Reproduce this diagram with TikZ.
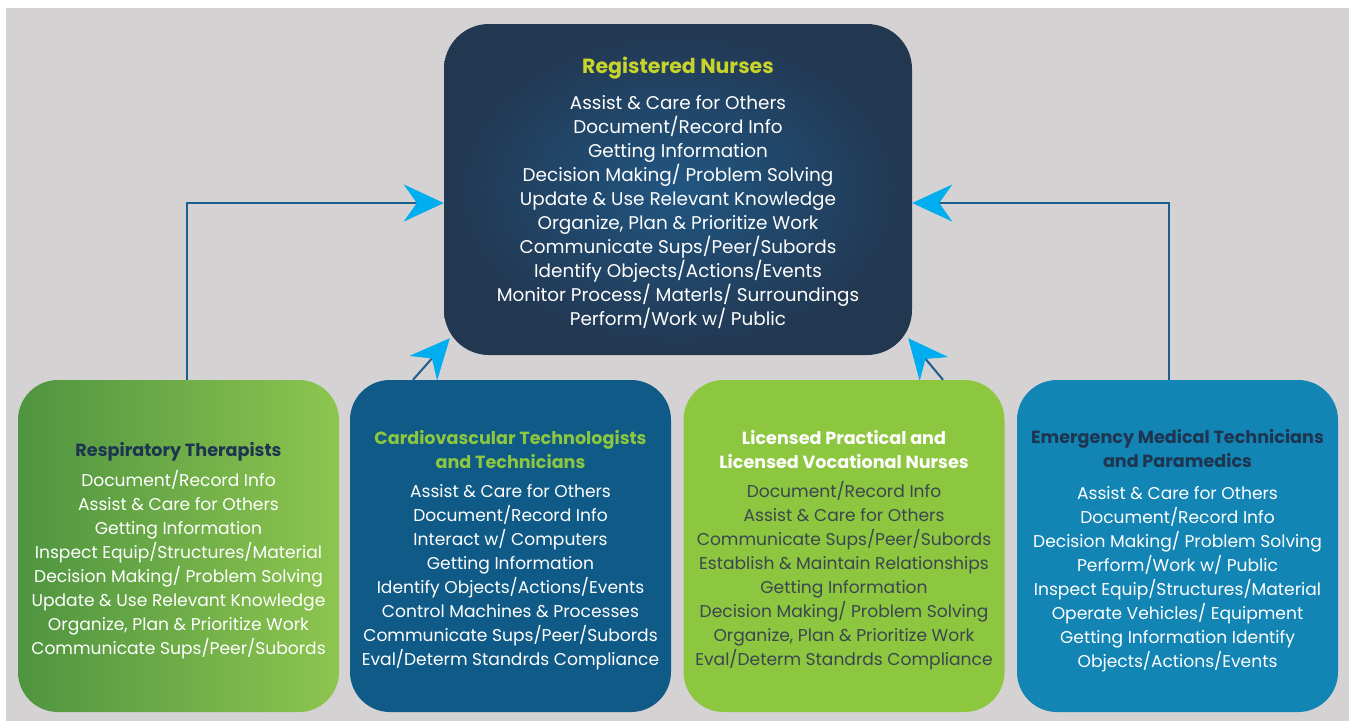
\documentclass[tikz,border=0pt]{standalone}
\usepackage{fontspec}
\setmainfont{Poppins}
\usetikzlibrary{arrows.meta,calc}
\definecolor{bggray}{HTML}{D4D2D3}
\definecolor{navyout}{HTML}{223750}
\definecolor{navyin}{HTML}{215682}
\definecolor{rnyellow}{HTML}{C9D42A}
\definecolor{greenL}{HTML}{4F9440}
\definecolor{greenR}{HTML}{8DC54F}
\definecolor{cvblue}{HTML}{0F5A87}
\definecolor{lpgreen}{HTML}{8DC63F}
\definecolor{emblue}{HTML}{1385B5}
\definecolor{titlenavy}{HTML}{1E3550}
\definecolor{titlegreen}{HTML}{8DC63F}
\definecolor{darktext}{HTML}{3B4650}
\definecolor{linkblue}{HTML}{1B5F8F}
\definecolor{tipcyan}{HTML}{00AEEF}
\begin{document}
\begin{tikzpicture}[x=1pt,y=-1pt,
  box/.style={rounded corners=40pt, minimum width=321pt, minimum height=332pt, inner sep=0pt, draw=none},
  txt/.style={align=center, inner sep=0pt, font=\fontsize{17.1}{24}\selectfont},
  bigtxt/.style={align=center, inner sep=0pt, font=\fontsize{18.4}{24}\selectfont},
  ttl/.style={align=center, inner sep=0pt, font=\fontsize{17.6}{24}\selectfont\bfseries},
  bigttl/.style={align=center, inner sep=0pt, font=\fontsize{20.5}{24}\selectfont\bfseries},
  link/.style={draw=linkblue, line width=2pt, -{Stealth[length=40pt,width=37pt,inset=13pt,color=tipcyan]}}
]
\useasboundingbox (0,0) rectangle (1349,721);
\fill[bggray] (6,8) rectangle (1349,721);

% boxes
\node[box, rounded corners=45pt, minimum width=468pt, minimum height=331pt, inner color=navyin, outer color=navyout] (rn) at (678,189.5) {};
\node[box, left color=greenL, right color=greenR] (rt) at (178.5,546) {};
\node[box, fill=cvblue] (cv) at (510.5,546) {};
\node[box, fill=lpgreen] (lp) at (844,546) {};
\node[box, fill=emblue] (em) at (1177.5,546) {};

% connectors
\draw[link] ([xshift=8.5pt]rt.north) |- ([yshift=-13.5pt]rn.west);
\draw[link] ([xshift=-8.5pt]em.north) |- ([yshift=-13.5pt]rn.east);
\draw[link] ([xshift=-97.5pt]cv.north) -- ($(rn.south west)+(6,-17)$);
\draw[link] ([xshift=99pt]lp.north) -- ($(rn.south east)+(-4,-17)$);

% texts
\node[bigttl, text=rnyellow] (rnt) at (678,68) {Registered Nurses};
\node[bigtxt, text=white, anchor=north] (rnl) at (678,95) {Assist \& Care for Others\\Document/Record Info\\Getting Information\\Decision Making/ Problem Solving\\Update \& Use Relevant Knowledge\\Organize, Plan \& Prioritize Work\\Communicate Sups/Peer/Subords\\Identify Objects/Actions/Events\\Monitor Process/ Materls/ Surroundings\\Perform/Work w/ Public};

\node[ttl, text=titlenavy] (rtt) at (178.5,452) {Respiratory Therapists};
\node[txt, text=white, anchor=north] (rtl) at (178.5,470.5) {Document/Record Info\\Assist \& Care for Others\\Getting Information\\Inspect Equip/Structures/Material\\Decision Making/ Problem Solving\\Update \& Use Relevant Knowledge\\Organize, Plan \& Prioritize Work\\Communicate Sups/Peer/Subords};

\node[ttl, text=titlegreen, anchor=north] (cvt) at (510.5,430.5) {Cardiovascular Technologists\\and Technicians};
\node[txt, text=white, anchor=north] (cvl) at (510.5,484.5) {Assist \& Care for Others\\Document/Record Info\\Interact w/ Computers\\Getting Information\\Identify Objects/Actions/Events\\Control Machines \& Processes\\Communicate Sups/Peer/Subords\\Eval/Determ Standrds Compliance};

\node[ttl, text=white, anchor=north] (lpt) at (844,430.5) {Licensed Practical and\\Licensed Vocational Nurses};
\node[txt, text=darktext, anchor=north] (lpl) at (844,481.5) {Document/Record Info\\Assist \& Care for Others\\Communicate Sups/Peer/Subords\\Establish \& Maintain Relationships\\Getting Information\\Decision Making/ Problem Solving\\Organize, Plan \& Prioritize Work\\Eval/Determ Standrds Compliance};

\node[ttl, text=titlenavy, anchor=north] (emt) at (1177.5,429.5) {Emergency Medical Technicians\\and Paramedics};
\node[txt, text=white, anchor=north] (eml) at (1177.5,486.5) {Assist \& Care for Others\\Document/Record Info\\Decision Making/ Problem Solving\\Perform/Work w/ Public\\Inspect Equip/Structures/Material\\Operate Vehicles/ Equipment\\Getting Information Identify\\Objects/Actions/Events};
\end{tikzpicture}
\end{document}
